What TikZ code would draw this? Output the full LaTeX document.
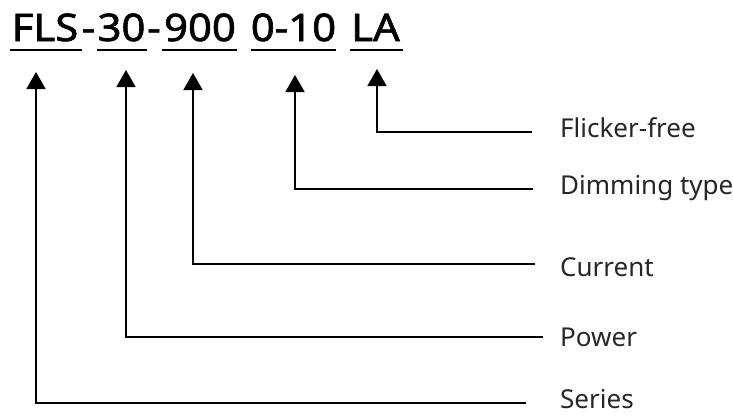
\documentclass[tikz,border=0pt]{standalone}
\usepackage{fontspec}
\setmainfont{Noto Sans}
\newfontfamily\titlefont[FakeBold=1.6]{Noto Sans}
\usetikzlibrary{arrows.meta}
\tikzset{
  seg/.style={anchor=base, inner sep=0pt, font=\titlefont\fontsize{38}{40}\selectfont},
  lab/.style={anchor=base west, inner sep=0pt, font=\fontsize{26}{28}\selectfont, text=black!85},
  uline/.style={line width=2pt},
  conn/.style={line width=1.8pt, -{Triangle[width=19pt,length=17pt]}},
}
\newcommand{\wid}[1]{\scalebox{1.1}[1]{#1}}
\begin{document}
\begin{tikzpicture}[x=1pt,y=-1pt]
\useasboundingbox (0,0) rectangle (733,416);
% title segments
\node[seg] (fls) at (45,41) {\wid{FLS}};
\node[seg] (d1) at (88.5,41) {\wid{-}};
\node[seg] (p30) at (121.5,41) {\wid{30}};
\node[seg] (d2) at (154,41) {\wid{-}};
\node[seg] (p900) at (200,41) {\wid{900}};
\node[seg] (p010) at (293.5,41) {\wid{0-10}};
\node[seg] (pla) at (375.5,41) {\wid{LA}};
% underlines
\draw[uline] (10,49.5) -- (82,49.5);
\draw[uline] (97,49.5) -- (147,49.5);
\draw[uline] (162,49.5) -- (237,49.5);
\draw[uline] (251,49.5) -- (336,49.5);
\draw[uline] (350,49.5) -- (403,49.5);
% labels
\node[lab] (lff) at (560,137) {Flicker-free};
\node[lab] (ldim) at (560,194) {Dimming type};
\node[lab] (lcur) at (560,276) {Current};
\node[lab] (lpow) at (560,346) {Power};
\node[lab] (lser) at (560,408) {Series};
% connector ends
\coordinate (eff) at (532,132);
\coordinate (edim) at (533,189);
\coordinate (ecur) at (535,264);
\coordinate (epow) at (543,337);
\coordinate (eser) at (526,403);
\coordinate (tla) at (377,69);
\coordinate (t010) at (295,75);
\coordinate (t900) at (193,73);
\coordinate (t30) at (126,70);
\coordinate (tfls) at (36,72);
% connectors
\draw[conn] (eff) -| (tla);
\draw[conn] (edim) -| (t010);
\draw[conn] (ecur) -| (t900);
\draw[conn] (epow) -| (t30);
\draw[conn] (eser) -| (tfls);
\end{tikzpicture}
\end{document}
